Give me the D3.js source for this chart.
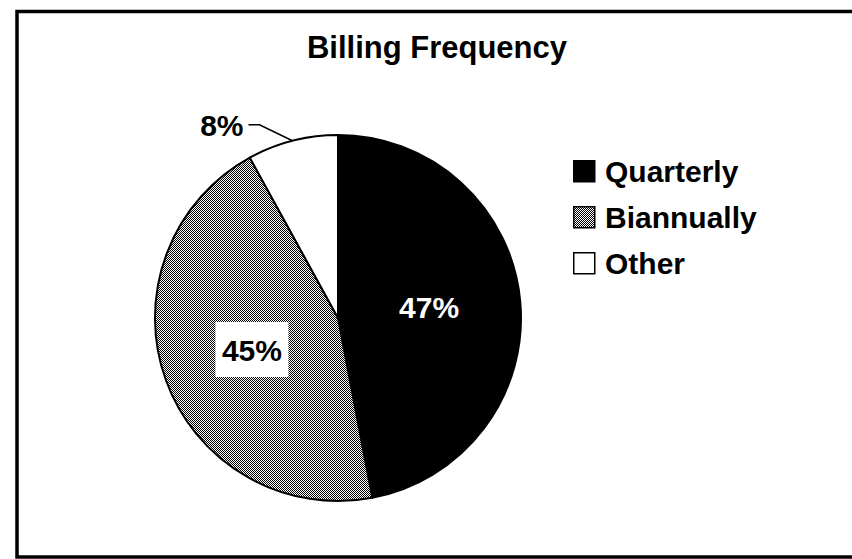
<!DOCTYPE html>
<html>
<head>
<meta charset="utf-8">
<script src="https://cdn.jsdelivr.net/npm/d3@7"></script>
<style>
  body { margin: 0; background: #fff; }
  text { font-family: "Liberation Sans", Arial, sans-serif; font-weight: bold; }
</style>
</head>
<body>
<div id="chart"></div>
<script>
// chart data
var categories = ["Quarterly", "Biannually", "Other"];
var values = [47, 45, 8];
var labels = ["47%", "45%", "8%"];
var title = "Billing Frequency";

var W = 852, H = 559;
var cx = 338, cy = 318, R = 183;

var svg = d3.select("#chart").append("svg")
	.attr("width", W)
	.attr("height", H);

// checker hatch
var defs = svg.append("defs");
var pat = defs.append("pattern")
	.attr("id", "checker")
	.attr("patternUnits", "userSpaceOnUse")
	.attr("width", 2)
	.attr("height", 2);
pat.append("rect").attr("width", 2).attr("height", 2).attr("fill", "#fff");
pat.append("rect").attr("x", 0).attr("y", 0).attr("width", 1).attr("height", 1).attr("fill", "#000");
pat.append("rect").attr("x", 1).attr("y", 1).attr("width", 1).attr("height", 1).attr("fill", "#000");

var fills = d3.scaleOrdinal()
	.domain(categories)
	.range(["#000", "url(#checker)", "#fff"]);

// outer frame
svg.append("rect")
	.attr("x", 17)
	.attr("y", 11.5)
	.attr("width", 900)
	.attr("height", 545.5)
	.attr("fill", "none")
	.attr("stroke", "#000")
	.attr("stroke-width", 3.5);

svg.append("text")
	.attr("x", 437)
	.attr("y", 58)
	.attr("text-anchor", "middle")
	.style("font-size", "31px")
	.text(title);

var pie = d3.pie().sort(null).value(d => d);
var arcs = pie(values);
var arc = d3.arc().innerRadius(0).outerRadius(R);

var g = svg.append("g").attr("transform", "translate(" + cx + "," + cy + ")");

g.selectAll("path.slice")
	.data(arcs)
	.enter()
	.append("path")
		.attr("class", "slice")
		.attr("d", arc)
		.attr("fill", (d, i) => fills(categories[i]))
		.attr("stroke", "#000")
		.attr("stroke-width", 2)
		.attr("stroke-linejoin", "round");

// 47% label inside black slice
var c0 = arc.centroid(arcs[0]);
g.append("text")
	.attr("x", c0[0])
	.attr("y", c0[1] + 9)
	.attr("text-anchor", "middle")
	.attr("fill", "#fff")
	.style("font-size", "30px")
	.text(labels[0]);

// 45% label with white box
var c1 = arc.centroid(arcs[1]);
var lb = g.append("g").attr("transform", "translate(" + c1[0] + "," + c1[1] + ")");
lb.append("rect")
	.attr("x", -36.5)
	.attr("y", -27)
	.attr("width", 73)
	.attr("height", 55)
	.attr("fill", "#fff");
lb.append("text")
	.attr("x", 0)
	.attr("y", 12)
	.attr("text-anchor", "middle")
	.style("font-size", "30px")
	.text(labels[1]);

// 8% outside label with leader line
var a2 = arcs[2];
var mid = (a2.startAngle + a2.endAngle) / 2;
var px = R * Math.sin(mid), py = -R * Math.cos(mid);
var lx = px - 33, ly = py - 16;
g.append("polyline")
	.attr("points", [[px, py], [lx, ly], [lx - 11, ly]].map(p => p.join(",")).join(" "))
	.attr("fill", "none")
	.attr("stroke", "#000")
	.attr("stroke-width", 1.5);
g.append("text")
	.attr("x", lx - 16)
	.attr("y", ly + 11)
	.attr("text-anchor", "end")
	.style("font-size", "30px")
	.text(labels[2]);

// legend
var legend = svg.selectAll("g.legend")
	.data(categories)
	.enter()
	.append("g")
		.attr("class", "legend")
		.attr("transform", (d, i) => "translate(573," + (160 + i * 46) + ")");

legend.append("rect")
	.attr("x", 0.75)
	.attr("y", 0.75)
	.attr("width", 21)
	.attr("height", 21)
	.attr("fill", d => fills(d))
	.attr("stroke", "#000")
	.attr("stroke-width", 1.5);

legend.append("text")
	.attr("x", 32)
	.attr("y", 22)
	.style("font-size", "30px")
	.text(d => d);
</script>
</body>
</html>
